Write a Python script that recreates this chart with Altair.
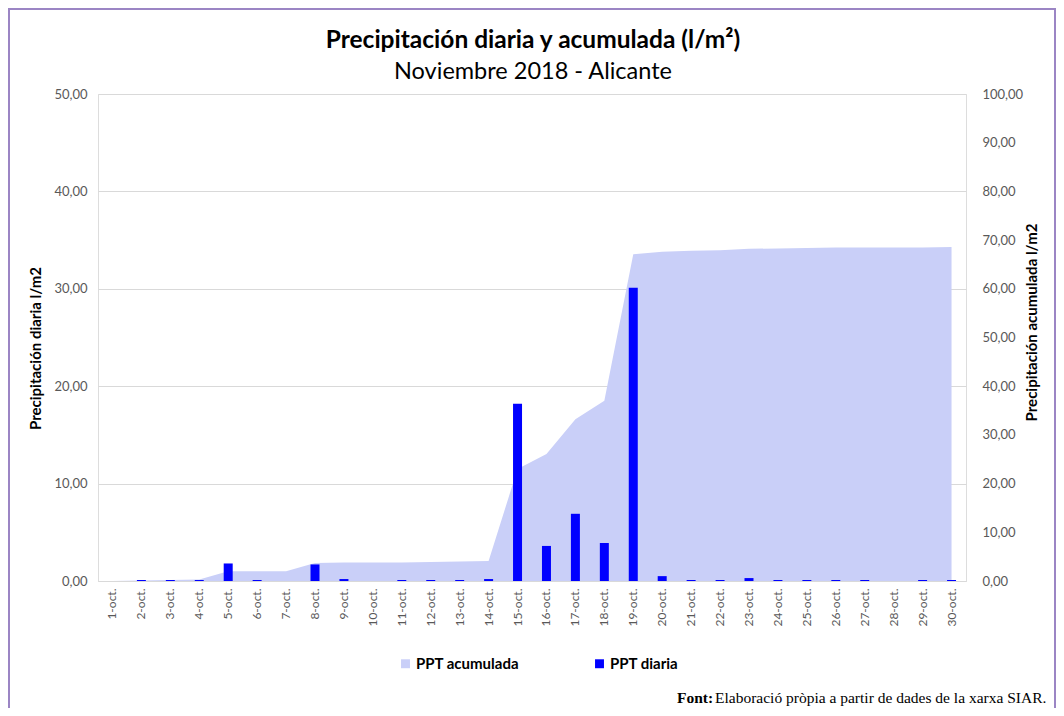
import altair as alt
import pandas as pd

days = ["1-oct.", "2-oct.", "3-oct.", "4-oct.", "5-oct.", "6-oct.", "7-oct.", "8-oct.",
        "9-oct.", "10-oct.", "11-oct.", "12-oct.", "13-oct.", "14-oct.", "15-oct.",
        "16-oct.", "17-oct.", "18-oct.", "19-oct.", "20-oct.", "21-oct.", "22-oct.",
        "23-oct.", "24-oct.", "25-oct.", "26-oct.", "27-oct.", "28-oct.", "29-oct.", "30-oct."]
daily = [0, 0.1, 0.1, 0.1, 1.8, 0.1, 0, 1.7, 0.2, 0, 0.1, 0.1, 0.1, 0.2, 18.2,
         3.6, 6.9, 3.9, 30.1, 0.5, 0.1, 0.1, 0.3, 0.1, 0.1, 0.1, 0.1, 0, 0.1, 0.1]
cumul = [0, 0.1, 0.2, 0.3, 2.0, 2.0, 2.0, 3.7, 3.8, 3.8, 3.8, 3.9, 4.0, 4.1, 23.0,
         26.1, 33.2, 37.0, 67.1, 67.6, 67.8, 67.9, 68.2, 68.3, 68.4, 68.5, 68.5, 68.5, 68.5, 68.6]
series_names = ["PPT acumulada", "PPT diaria"]
series_colors = ["#C9CFF8", "#0000FF"]
left_ticks = [0, 10, 20, 30, 40, 50]
right_ticks = [0, 10, 20, 30, 40, 50, 60, 70, 80, 90, 100]
title_text = "Precipitación diaria y acumulada (l/m²)"
subtitle_text = "Noviembre 2018 - Alicante"
source_label = "Font:"
source_text = "Elaboració pròpia a partir de dades de la xarxa SIAR."

df = pd.DataFrame({"dia": days, "diaria": daily, "acumulada": cumul})

FONT = "Lato"
label_expr = "replace(format(datum.value, '.2f'), '.', ',')"

color_scale = alt.Scale(domain=series_names, range=series_colors)
legend = alt.Legend(title=None, orient="none", legendX=300, legendY=562,
                    direction="horizontal", symbolType="square",
                    symbolSize=80, symbolStrokeWidth=0,
                    labelFontSize=15, labelFontWeight="bold",
                    labelColor="#000", labelFont=FONT,
                    columnPadding=72, labelOffset=3)

x_axis = alt.Axis(title=None, labelAngle=270, labelFontSize=12, labelColor="#595959",
                  ticks=False, tickSize=0, domainColor="#D9D9D9", labelPadding=7,
                  grid=False, labelFont=FONT)
x_scale = alt.Scale(paddingInner=0, paddingOuter=0)

area = alt.Chart(df).transform_calculate(serie="'PPT acumulada'").mark_area(opacity=1).encode(
    x=alt.X("dia:N", sort=days, scale=x_scale, axis=x_axis, bandPosition=0.5),
    y=alt.Y("acumulada:Q", scale=alt.Scale(domain=[0, 100]),
            axis=alt.Axis(orient="right", values=right_ticks, labelExpr=label_expr,
                          grid=False, ticks=False, tickSize=0, domain=False,
                          labelPadding=16, labelFontSize=13, labelColor="#595959",
                          labelFont=FONT,
                          title="Precipitación acumulada l/m2", titleFontSize=15,
                          titleFont=FONT,
                          titleFontWeight="bold", titleColor="#000", titleAngle=270,
                          titleX=65, titleY=228, titleBaseline="middle", titleAlign="center")),
    color=alt.Color("serie:N", scale=color_scale, legend=legend),
)

bars = alt.Chart(df).transform_calculate(serie="'PPT diaria'").mark_bar(size=9).encode(
    x=alt.X("dia:N", sort=days, scale=x_scale, axis=x_axis),
    y=alt.Y("diaria:Q", scale=alt.Scale(domain=[0, 50]),
            axis=alt.Axis(orient="left", values=left_ticks, labelExpr=label_expr,
                          grid=True, gridColor="#D9D9D9", ticks=False, tickSize=0,
                          domain=False, labelPadding=11, labelFontSize=13,
                          labelColor="#595959", labelFont=FONT,
                          title="Precipitación diaria l/m2", titleFont=FONT,
                          titleFontSize=15, titleFontWeight="bold", titleColor="#000",
                          titleAngle=270, titleX=-63, titleY=254, titleBaseline="middle",
                          titleAlign="center")),
    color=alt.Color("serie:N", scale=color_scale, legend=legend),
)

title_mark = alt.Chart(pd.DataFrame({"t": [title_text]})).mark_text(
    align="center", baseline="middle", font=FONT, fontSize=24.5, fontWeight="bold",
    color="#000").encode(x=alt.value(435), y=alt.value(-53), text="t:N")

subtitle_mark = alt.Chart(pd.DataFrame({"t": [subtitle_text]})).mark_text(
    align="center", baseline="middle", font=FONT, fontSize=23.5,
    color="#000").encode(x=alt.value(435), y=alt.value(-22), text="t:N")

foot_bold = alt.Chart(pd.DataFrame({"t": [source_label]})).mark_text(
    align="left", baseline="middle", font="Liberation Serif", fontSize=15.5,
    fontWeight="bold", color="#000").encode(
    x=alt.value(579), y=alt.value(604), text="t:N")

foot_rest = alt.Chart(pd.DataFrame({"t": [source_text]})).mark_text(
    align="left", baseline="middle", font="Liberation Serif", fontSize=15.5,
    color="#000").encode(
    x=alt.value(617), y=alt.value(604), text="t:N")

border = alt.Chart(pd.DataFrame({"b": [1]})).mark_rect(
    filled=False, stroke="#9B85C4", strokeWidth=2).encode(
    x=alt.value(-89), x2=alt.value(957), y=alt.value(-85), y2=alt.value(700))

chart = alt.layer(border, area, bars, title_mark, subtitle_mark, foot_bold, foot_rest).resolve_scale(
    y="independent"
).properties(
    width=868, height=487,
    autosize=alt.AutoSizeParams(type="none"),
    padding={"left": 90, "top": 86, "right": 90, "bottom": 127},
).configure_view(strokeWidth=0).configure(background="white")

chart.save("out.html", embed_options={"renderer": "svg", "actions": False})
